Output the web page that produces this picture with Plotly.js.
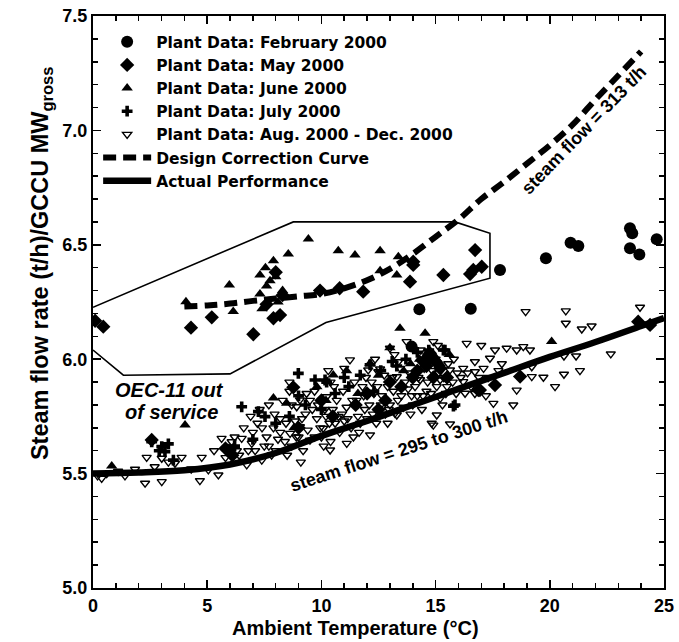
<!DOCTYPE html>
<html>
<head>
<meta charset="utf-8">
<script src="https://cdn.plot.ly/plotly-3.0.1.min.js"></script>
<style>html,body{margin:0;padding:0;background:#fff;}#chart{width:679px;height:642px;}</style>
</head>
<body>
<div id="chart"></div>
<script>
// ---- Data ----
var febX = [17.82, 19.83, 20.91, 21.25, 23.51, 23.61, 23.51, 23.92, 24.68, 14.29, 16.54, 13.95];
var febY = [6.39, 6.441, 6.509, 6.495, 6.572, 6.55, 6.485, 6.458, 6.524, 6.218, 6.221, 6.055];

var mayX = [0.09, 0.45, 4.29, 5.2, 7.02, 7.9, 8.19, 7.6, 8.3, 9.94, 10.8, 11.83, 13.88, 14.02, 14.02, 15.34, 16.51, 16.65, 16.73, 17.02, 8.0,
            2.57, 5.8, 5.95, 6.1, 8.77, 14.75, 14.75, 14.6, 14.46, 15.0, 16.94, 17.6, 18.7, 16.87, 23.87, 24.39, 9.0, 10.5, 11.5, 12.5, 13.5, 12.0, 14.2, 15.5, 10.0,
            13.0, 14.0, 15.2, 14.9, 12.8];
var mayY = [6.168, 6.142, 6.138, 6.183, 6.109, 6.179, 6.193, 6.24, 6.28, 6.30, 6.31, 6.295, 6.339, 6.412, 6.426, 6.368, 6.372, 6.39, 6.477, 6.404, 6.38,
            5.647, 5.61, 5.6, 5.58, 5.877, 6.004, 6.026, 5.97, 5.99, 5.99, 5.865, 5.887, 5.924, 5.865, 6.164, 6.15, 5.7, 5.75, 5.8, 5.78, 5.88, 5.85, 5.95, 5.92, 5.82,
            5.9, 5.92, 5.96, 5.92, 5.82];

var junX = [4.07, 5.97, 6.14, 7.31, 7.31, 7.55, 7.75, 7.9, 7.6, 8.0, 8.3, 8.55, 9.43, 10.74, 11.47, 12.57, 12.57, 13.37, 13.3, 8.1, 7.4,
            0.82, 4.03, 8.48, 7.9, 10.52, 11.1, 12.13, 13.44, 14.54, 13.0, 20.08, 14.3, 14.9, 15.2, 9.8, 11.6, 13.6, 8.8,
            12.5, 13.9, 15.6, 10.2];
var junY = [6.251, 6.324, 6.208, 6.285, 6.368, 6.40, 6.343, 6.43, 6.32, 6.36, 6.30, 6.46, 6.525, 6.474, 6.455, 6.474, 6.387, 6.448, 6.368, 6.25, 6.22,
            5.533, 5.712, 5.807, 5.83, 5.931, 5.95, 5.982, 6.135, 6.113, 6.05, 6.077, 6.0, 6.02, 5.98, 5.88, 5.85, 5.95, 5.7,
            5.93, 5.98, 6.02, 5.82];

var julX = [2.57, 3.01, 3.15, 3.52, 2.9, 3.3, 6.51, 7.24, 7.53, 8.99, 9.72, 10.16, 10.23, 12.13, 15.78, 15.34, 15.85, 15.41, 8.0, 8.6, 9.3, 10.6,
            11.2, 11.7, 12.6, 13.1, 13.7, 14.2, 14.7, 14.0, 10.0, 12.3, 7.0, 6.2, 9.0, 11.0, 13.3, 14.5];
var julY = [5.639, 5.618, 5.596, 5.559, 5.6, 5.63, 5.792, 5.771, 5.749, 5.938, 5.909, 5.909, 5.9, 5.975, 5.795, 6.04, 5.8, 6.04, 5.72, 5.75, 5.8, 5.85,
            5.88, 5.93, 5.95, 5.99, 6.0, 6.03, 6.04, 5.93, 5.78, 5.86, 5.65, 5.62, 5.84, 5.92, 5.97, 6.0];

var augX = [0.38, 0.2, 0.6, 1.1, 1.4, 1.84, 2.28, 2.35, 3.01, 3.01, 3.59, 3.88, 4.68, 4.76, 5.05, 5.49, 4.3, 2.7, 3.3, 5.63, 6.07, 6.51, 6.95, 6.73, 7.39, 7.82,
            5.3, 5.8, 6.3, 6.6, 7.0, 7.2, 7.6, 7.9, 8.2, 8.1, 8.63, 8.85, 9.06, 9.5, 8.92, 9.06, 9.5, 9.3, 9.8, 10.08, 10.38, 10.4, 10.23, 10.67, 11.1, 11.54,
            10.6, 10.9, 11.11, 11.3, 11.6, 11.9, 12.13, 12.05, 12.49, 12.3, 12.6, 12.9, 13.3, 13.3, 13.22, 13.5, 13.8, 14.0, 14.32, 14.6, 14.9, 15.05, 14.83,
            15.2, 15.2, 15.63, 15.63, 15.5, 16.21, 16.72, 16.72, 16.36, 16.29, 16.21, 16.72, 17.38, 17.53, 17.6, 18.11, 18.4, 18.55, 18.55, 18.84, 18.94,
            19.13, 19.21, 19.21, 19.72, 20.23, 20.62, 20.62, 20.7, 20.7, 21.15, 21.32, 21.4, 21.83, 22.67, 23.95, 13.0, 13.73, 14.9, 11.25, 12.57, 13.37,
            14.5, 15.0, 9.2, 7.5, 8.0, 8.4, 8.7, 9.0, 9.4, 9.7, 10.0, 10.2, 10.5, 10.8, 11.0, 11.4, 11.7, 12.0, 12.4, 12.8, 13.0, 13.6, 14.2, 14.8, 15.3,
            15.9, 7.3, 7.7, 8.3, 8.6, 9.7, 10.4, 11.8, 12.2, 13.1, 9.1, 8.5, 10.1, 12.9, 13.9, 14.4,
            6.2, 6.4, 6.8, 7.1, 7.4, 7.7, 7.95, 6.9, 8.2, 8.45, 8.7, 8.9, 9.15, 9.35, 9.6, 9.85, 9.95, 8.6,
            10.15, 10.35, 10.55, 10.75, 10.95, 11.15, 11.35, 11.45, 11.65, 11.85, 11.95, 10.3, 11.0,
            12.1, 12.25, 12.45, 12.65, 12.75, 12.95, 13.15, 13.35, 13.45, 13.65, 13.85, 13.95, 12.35, 13.2,
            14.1, 14.25, 14.45, 14.65, 14.85, 15.05, 15.15, 15.35, 15.55, 15.75, 15.95, 14.35, 15.1, 15.8, 15.45,
            16.1, 16.4, 16.55, 16.9, 17.1, 17.3, 17.75, 17.9, 17.2, 17.0];
var augY = [5.479, 5.49, 5.5, 5.51, 5.49, 5.519, 5.458, 5.571, 5.465, 5.567, 5.545, 5.571, 5.469, 5.571, 5.516, 5.494, 5.52, 5.53, 5.55, 5.654, 5.639, 5.654, 5.632, 5.538, 5.559, 5.581,
            5.6, 5.57, 5.6, 5.7, 5.68, 5.72, 5.66, 5.7, 5.74, 5.65, 5.676, 5.73, 5.705, 5.646, 5.792, 5.822, 5.82, 5.76, 5.74, 5.698, 5.603, 5.64, 5.836, 5.82, 5.79, 5.82,
            5.72, 5.76, 5.632, 5.7, 5.75, 5.78, 5.669, 5.953, 5.945, 5.85, 5.8, 5.88, 5.923, 5.756, 5.763, 5.84, 5.87, 5.8, 5.91, 5.86, 5.712, 5.756, 5.72,
            5.91, 5.829, 5.717, 5.953, 5.88, 5.96, 5.945, 5.989, 6.069, 5.851, 5.902, 5.85, 6.004, 5.807, 6.04, 6.048, 5.8, 5.865, 6.04, 6.055, 6.208,
            6.04, 5.924, 5.967, 5.921, 5.88, 5.934, 6.014, 6.211, 6.157, 6.014, 5.95, 6.132, 6.145, 6.023, 6.227, 6.048, 6.077, 6.077, 5.997, 5.957, 5.989,
            5.96, 6.0, 5.6, 5.62, 5.6, 5.64, 5.62, 5.66, 5.69, 5.66, 5.66, 5.75, 5.78, 5.68, 5.73, 5.66, 5.72, 5.74, 5.72, 5.76, 5.8, 5.79, 5.84, 5.85, 5.8,
            5.85, 5.78, 5.8, 5.82, 5.86, 5.86, 5.9, 5.88, 5.9, 5.92, 5.55, 5.58, 5.62, 5.72, 5.76, 5.78,
            5.66, 5.58, 5.6, 5.6, 5.7, 5.62, 5.76, 5.75, 5.68, 5.72, 5.8, 5.66, 5.74, 5.85, 5.78, 5.8, 5.7, 5.9,
            5.78, 5.72, 5.88, 5.75, 5.86, 5.74, 5.82, 5.9, 5.68, 5.84, 5.92, 5.95, 5.96,
            5.8, 5.76, 5.88, 5.84, 5.93, 5.78, 5.86, 5.82, 5.96, 5.9, 5.94, 5.84, 6.0, 6.02,
            5.88, 5.92, 5.84, 5.9, 5.95, 5.88, 5.94, 5.92, 5.98, 5.9, 5.94, 6.04, 6.06, 6.0, 5.85,
            5.92, 5.94, 5.88, 5.92, 5.96, 5.92, 5.95, 5.98, 5.84, 6.06];

var designX = [4.0, 5, 6, 7, 8, 9, 10, 11, 12, 13, 14, 15, 16, 17, 18, 19, 20, 21, 22, 23, 24];
var designY = [6.23, 6.235, 6.243, 6.255, 6.265, 6.275, 6.285, 6.31, 6.345, 6.395, 6.46, 6.535, 6.61, 6.70, 6.775, 6.855, 6.935, 7.025, 7.135, 7.24, 7.345];

var actualX = [0, 2, 4, 6, 8, 10, 12, 14, 16, 18, 20, 22, 24, 25];
var actualY = [5.50, 5.505, 5.515, 5.54, 5.59, 5.665, 5.73, 5.80, 5.87, 5.94, 6.01, 6.075, 6.145, 6.18];

var outlineX = [0, 8.77, 15.85, 17.38, 17.38, 10.2, 6.0, 1.33, 0];
var outlineY = [6.227, 6.60, 6.60, 6.55, 6.354, 6.16, 5.936, 5.93, 6.04];

var seriesNames = ['Plant Data: February 2000', 'Plant Data: May 2000', 'Plant Data: June 2000', 'Plant Data: July 2000',
                   'Plant Data: Aug. 2000 - Dec. 2000', 'Design Correction Curve', 'Actual Performance'];

// ---- Plot ----
var FONT = 'Liberation Sans, Arial, Helvetica, sans-serif';
var LFONT = 'DejaVu Sans, Liberation Sans, Arial, sans-serif';
var traces = [
  {x: outlineX, y: outlineY, mode: 'lines', line: {color: '#000', width: 1.6}, showlegend: false, hoverinfo: 'skip'},
  {x: febX, y: febY, name: seriesNames[0], mode: 'markers',
   marker: {symbol: 'circle', size: 12, color: '#000'}},
  {x: mayX, y: mayY, name: seriesNames[1], mode: 'markers',
   marker: {symbol: 'diamond', size: 11, color: '#000'}},
  {x: junX, y: junY, name: seriesNames[2], mode: 'markers',
   marker: {symbol: 'triangle-up', size: 10, color: '#000'}},
  {x: julX, y: julY, name: seriesNames[3], mode: 'markers',
   marker: {symbol: 'cross', size: 9, color: '#000'}},
  {x: augX, y: augY, name: seriesNames[4], mode: 'markers',
   marker: {symbol: 'triangle-down-open', size: 8, color: '#000', line: {width: 1.4, color: '#000'}}},
  {x: designX, y: designY, name: seriesNames[5], mode: 'lines',
   line: {color: '#000', width: 6, dash: '13px,7px', shape: 'spline'}},
  {x: actualX, y: actualY, name: seriesNames[6], mode: 'lines',
   line: {color: '#000', width: 6.5, shape: 'spline'}}
];

var axisCommon = {
  showgrid: false, zeroline: false, showline: true, linecolor: '#000', linewidth: 2,
  mirror: 'ticks', ticks: 'inside', ticklen: 8, tickwidth: 1.5, tickcolor: '#000',
  tickfont: {family: FONT, size: 18, color: '#000', weight: 'bold'}
};

var layout = {
  width: 679, height: 642,
  margin: {l: 93, r: 15, t: 16, b: 54},
  paper_bgcolor: '#fff', plot_bgcolor: '#fff',
  font: {family: FONT, color: '#000'},
  showlegend: true,
  legend: {x: 0.009, y: 0.984, xanchor: 'left', yanchor: 'top', bgcolor: 'rgba(0,0,0,0)',
           font: {family: LFONT, size: 15.5, color: '#000', weight: 'bold'},
           itemwidth: 48},
  xaxis: Object.assign({}, axisCommon, {
    range: [0, 25], dtick: 5, tick0: 0,
    minor: {dtick: 1, ticks: 'inside', ticklen: 5, tickwidth: 1.5, tickcolor: '#000'}
  }),
  yaxis: Object.assign({}, axisCommon, {
    range: [5.0, 7.5], dtick: 0.5, tick0: 5, tickformat: '.1f',
    minor: {dtick: 0.1, ticks: 'inside', ticklen: 5, tickwidth: 1.5, tickcolor: '#000'}
  }),
  annotations: [
    {x: 0.459, y: -0.093, xref: 'paper', yref: 'paper', yanchor: 'bottom', text: 'Ambient Temperature (°C)', showarrow: false,
     font: {family: FONT, size: 20, color: '#000', weight: 'bold'}},
    {x: -0.12, y: 6.42, xref: 'paper', yref: 'y', text: 'Steam flow rate (t/h)/GCCU MW<sub>gross</sub>', showarrow: false, textangle: -90,
     font: {family: FONT, size: 23.5, color: '#000', weight: 'bold'}},
    {x: 21.5, y: 7.0, xref: 'x', yref: 'y', text: 'steam flow = 313 t/h', showarrow: false, textangle: -46,
     font: {family: FONT, size: 18, color: '#000', weight: 'bold'}},
    {x: 13.4, y: 5.6, xref: 'x', yref: 'y', text: 'steam flow = 295 to 300 t/h', showarrow: false, textangle: -18,
     font: {family: FONT, size: 18, color: '#000', weight: 'bold'}},
    {x: 3.35, y: 5.865, xref: 'x', yref: 'y', text: '<i>OEC-11 out</i>', showarrow: false,
     font: {family: FONT, size: 20, color: '#000', weight: 'bold'}},
    {x: 3.45, y: 5.77, xref: 'x', yref: 'y', text: '<i>of service</i>', showarrow: false,
     font: {family: FONT, size: 20, color: '#000', weight: 'bold'}}
  ]
};

Plotly.newPlot('chart', traces, layout, {displayModeBar: false, staticPlot: true});
</script>
</body>
</html>
